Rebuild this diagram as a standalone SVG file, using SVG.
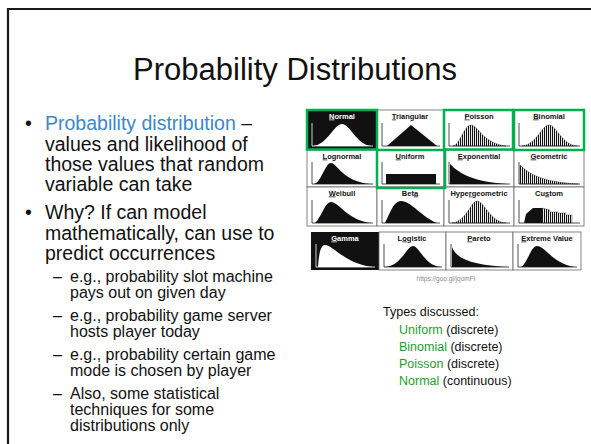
<svg xmlns="http://www.w3.org/2000/svg" width="591" height="444" viewBox="0 0 591 444">
<defs>
<pattern id="hatch" patternUnits="userSpaceOnUse" width="2" height="4">
<rect x="0" y="0" width="1.1" height="4" fill="#111"/>
</pattern>
<style>
.t{font-family:"Liberation Sans",Arial,sans-serif;fill:#111}
.body{font-size:19.5px}
.sub{font-size:16px}
.blue{fill:#3C87CC}
.grn{fill:#1F9E2E}
.lab{font-family:"Liberation Sans",Arial,sans-serif;font-size:7.5px;font-weight:bold;fill:#111;text-anchor:middle}
.labw{fill:#fff}
.ax{fill:none;stroke:#222;stroke-width:0.8}
.axw{fill:none;stroke:#fff;stroke-width:0.8}
.blk{fill:#111}
.wht{fill:#fff}
.hat{fill:url(#hatch);stroke:#333;stroke-width:0.4}
.cell{fill:#fff;stroke:#666;stroke-width:0.8}
.hl{fill:none;stroke:#00B050;stroke-width:2.5}
</style>
</defs>
<rect x="0" y="0" width="591" height="444" fill="#fff"/>
<g id="frame">
<path d="M8,444 V9 H591" fill="none" stroke="#1a1a1a" stroke-width="2.2"/>
</g>
<g id="title">
<text class="t" x="295" y="80" font-size="31" text-anchor="middle">Probability Distributions</text>
</g>
<g id="bullets">
<text class="t body" x="25" y="130">•</text>
<text class="t body" x="45" y="130"><tspan class="blue">Probability distribution</tspan> –</text>
<text class="t body" x="45" y="150.5">values and likelihood of</text>
<text class="t body" x="45" y="171">those values that random</text>
<text class="t body" x="45" y="191">variable can take</text>
<text class="t body" x="25" y="219">•</text>
<text class="t body" x="45" y="219">Why? If can model</text>
<text class="t body" x="45" y="240">mathematically, can use to</text>
<text class="t body" x="45" y="260">predict occurrences</text>
<text class="t sub" x="53" y="282">–</text>
<text class="t sub" x="70" y="282">e.g., probability slot machine</text>
<text class="t sub" x="70" y="298">pays out on given day</text>
<text class="t sub" x="53" y="321">–</text>
<text class="t sub" x="70" y="321">e.g., probability game server</text>
<text class="t sub" x="70" y="337">hosts player today</text>
<text class="t sub" x="53" y="360">–</text>
<text class="t sub" x="70" y="360">e.g., probability certain game</text>
<text class="t sub" x="70" y="376">mode is chosen by player</text>
<text class="t sub" x="53" y="399">–</text>
<text class="t sub" x="70" y="399">Also, some statistical</text>
<text class="t sub" x="70" y="415">techniques for some</text>
<text class="t sub" x="70" y="431">distributions only</text>
</g>
<g id="chart">
<g id="normal" transform="translate(307,110)">
<rect width="70" height="40" fill="#111"/>
<text class="lab labw" x="35" y="8.5"><tspan text-decoration="underline">N</tspan>ormal</text>
<path class="axw" d="M5,13 V36 H66"/>
<path class="wht" d="M6,36 C20,35 27,14 35,14 C43,14 50,35 64,36 Z"/>
</g>
<g id="triangular" transform="translate(377,110)">
<rect class="cell" width="67" height="40"/>
<text class="lab" x="33" y="8.5"><tspan text-decoration="underline">T</tspan>riangular</text>
<path class="ax" d="M5,13 V36 H63"/>
<path class="blk" d="M10,36 L34,15 L60,36 Z"/>
</g>
<g id="poisson" transform="translate(444,110)">
<rect class="cell" width="70" height="40"/>
<text class="lab" x="35" y="8.5"><tspan text-decoration="underline">P</tspan>oisson</text>
<path class="ax" d="M5,13 V36 H66"/>
<path class="hat" d="M9,36 C16,35 20,15 27,15 C34,15 38,33 62,36 Z"/>
</g>
<g id="binomial" transform="translate(514,110)">
<rect class="cell" width="70" height="40"/>
<text class="lab" x="35" y="8.5"><tspan text-decoration="underline">B</tspan>inomial</text>
<path class="ax" d="M5,13 V36 H66"/>
<path class="hat" d="M8,36 C22,35 28,15 35,15 C42,15 48,35 63,36 Z"/>
</g>
<g id="lognormal" transform="translate(307,150)">
<rect class="cell" width="70" height="37"/>
<text class="lab" x="35" y="8.5"><tspan text-decoration="underline">L</tspan>ognormal</text>
<path class="ax" d="M5,12 V34 H66"/>
<path class="blk" d="M7,34 C14,33 18,13 24,13 C30,13 36,32 64,34 Z"/>
</g>
<g id="uniform" transform="translate(377,150)">
<rect class="cell" width="67" height="37"/>
<text class="lab" x="33" y="8.5"><tspan text-decoration="underline">U</tspan>niform</text>
<path class="ax" d="M5,12 V34 H63"/>
<rect class="blk" x="9" y="24" width="50" height="10"/>
</g>
<g id="exponential" transform="translate(444,150)">
<rect class="cell" width="70" height="37"/>
<text class="lab" x="35" y="8.5"><tspan text-decoration="underline">E</tspan>xponential</text>
<path class="ax" d="M5,12 V34 H66"/>
<path class="blk" d="M6,14 C16,24 30,32 64,34 L6,34 Z"/>
</g>
<g id="geometric" transform="translate(514,150)">
<rect class="cell" width="70" height="37"/>
<text class="lab" x="35" y="8.5"><tspan text-decoration="underline">G</tspan>eometric</text>
<path class="ax" d="M5,12 V34 H66"/>
<path class="hat" d="M6,15 C16,25 30,32 64,34 L6,34 Z"/>
</g>
<g id="weibull" transform="translate(307,187)">
<rect class="cell" width="70" height="39"/>
<text class="lab" x="35" y="8.5"><tspan text-decoration="underline">W</tspan>eibull</text>
<path class="ax" d="M5,13 V36 H66"/>
<path class="blk" d="M8,36 C14,31 18,15 24,15 C32,15 40,33 64,36 Z"/>
</g>
<g id="beta" transform="translate(377,187)">
<rect class="cell" width="67" height="39"/>
<text class="lab" x="33" y="8.5">Bet<tspan text-decoration="underline">a</tspan></text>
<path class="ax" d="M5,13 V36 H63"/>
<path class="blk" d="M8,36 C12,29 16,14 24,14 C34,14 46,31 60,36 Z"/>
</g>
<g id="hypergeometric" transform="translate(444,187)">
<rect class="cell" width="70" height="39"/>
<text class="lab" x="35" y="8.5">Hype<tspan text-decoration="underline">r</tspan>geometric</text>
<path class="ax" d="M5,13 V36 H66"/>
<path class="hat" d="M8,36 C22,35 27,14 33,14 C40,14 46,35 62,36 Z"/>
</g>
<g id="custom" transform="translate(514,187)">
<rect class="cell" width="70" height="39"/>
<text class="lab" x="35" y="8.5">Cu<tspan text-decoration="underline">s</tspan>tom</text>
<path class="ax" d="M5,13 V36 H66"/>
<path class="blk" d="M10,36 L12,27 L19,21 L28,21 L28,36 Z"/>
<path class="hat" d="M28,21 L36,23 L36,25 L44,25 L44,26 L52,26 L52,28 L58,28 L58,36 L28,36 Z"/>
</g>
<g id="gamma" transform="translate(311,232)">
<rect width="68" height="38" fill="#111"/>
<text class="lab labw" x="34" y="8.5"><tspan text-decoration="underline">G</tspan>amma</text>
<path class="axw" d="M5,12 V35 H64"/>
<path class="wht" d="M7,35 C8,20 10,13 14,13 C22,13 34,32 62,35 Z"/>
</g>
<g id="logistic" transform="translate(379,232)">
<rect class="cell" width="67" height="38"/>
<text class="lab" x="33" y="8.5">L<tspan text-decoration="underline">o</tspan>gistic</text>
<path class="ax" d="M5,12 V35 H63"/>
<path class="blk" d="M6,35 C22,34 28,14 34,14 C40,14 46,34 62,35 Z"/>
</g>
<g id="pareto" transform="translate(446,232)">
<rect class="cell" width="67" height="38"/>
<text class="lab" x="33" y="8.5"><tspan text-decoration="underline">P</tspan>areto</text>
<path class="ax" d="M5,12 V35 H63"/>
<path class="blk" d="M6,15 C10,26 24,33 62,35 L6,35 Z"/>
</g>
<g id="extreme" transform="translate(513,232)">
<rect class="cell" width="68" height="38"/>
<text class="lab" x="34" y="8.5"><tspan text-decoration="underline">E</tspan>xtreme Value</text>
<path class="ax" d="M5,12 V35 H64"/>
<path class="blk" d="M8,35 C14,32 18,14 24,14 C32,14 40,32 62,35 Z"/>
</g>
<g id="highlights">
<rect class="hl" x="307" y="110" width="70" height="39.5"/>
<rect class="hl" x="444" y="110" width="69" height="39.5"/>
<rect class="hl" x="514" y="110" width="70" height="40"/>
<rect class="hl" x="377" y="150" width="68" height="38"/>
</g>
<text x="446" y="281" font-family="Liberation Sans,Arial,sans-serif" font-size="6.5" fill="#8a8a8a" text-anchor="middle">https://goo.gl/jqomFI</text>
</g>
<g id="types">
<text class="t" x="383" y="316" font-size="12.5">Types discussed:</text>
<text class="t" x="399" y="334" font-size="12.5"><tspan class="grn">Uniform</tspan> (discrete)</text>
<text class="t" x="399" y="351" font-size="12.5"><tspan class="grn">Binomial</tspan> (discrete)</text>
<text class="t" x="399" y="368" font-size="12.5"><tspan class="grn">Poisson</tspan> (discrete)</text>
<text class="t" x="399" y="385" font-size="12.5"><tspan class="grn">Normal</tspan> (continuous)</text>
</g>
</svg>
